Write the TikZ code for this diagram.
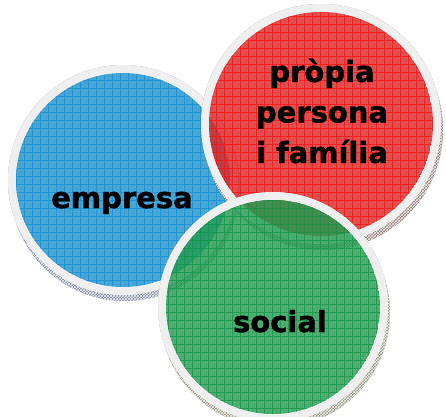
\documentclass[tikz,border=0pt]{standalone}
\usepackage{fontspec}
\setmainfont{DejaVu Sans}
\newfontfamily\heavyfont{DejaVu Sans Bold}[FakeBold=1.2]
\usetikzlibrary{patterns}
\definecolor{ringc}{HTML}{EFEFEF}
\definecolor{bluef}{RGB}{30,144,200}
\definecolor{blueg}{HTML}{1090D8}
\definecolor{blues}{HTML}{8890A8}
\definecolor{redf}{RGB}{212,40,40}
\definecolor{redg}{HTML}{FF1010}
\definecolor{reds}{HTML}{9A8080}
\definecolor{greenf}{RGB}{36,154,80}
\definecolor{greeng}{HTML}{109848}
\definecolor{greens}{HTML}{9A9C88}
\newcommand\drawdisc[6]{%
  % #1,#2 centre, #3 radius, #4 fill, #5 grid, #6 edge colour
  \begin{scope}[even odd rule]
    \fill[#6] (#1+2,#2-6) circle (#3) (#1,#2) circle (#3);
    \clip (#1+2,#2-6) circle (#3) (#1,#2) circle (#3);
    \fill[pattern=crosshatch, pattern color=white!85!#6] (#1-130,#2-130) rectangle (#1+130,#2+130);
  \end{scope}
  \fill[ringc, even odd rule] (#1,#2) circle (#3) (#1,#2) circle (#3-8);
  \begin{scope}
    \clip (#1,#2) circle (#3-8);
    \fill[#4, fill opacity=0.8] (#1,#2) circle (#3-8);
    \draw[#5, opacity=0.15, line width=0.3pt, step=4] (#1-130,#2-130) grid (#1+130,#2+130);
    \draw[#5, opacity=0.7, line width=0.8pt, step=8] (#1-130,#2-130) grid (#1+130,#2+130);
  \end{scope}
}
\tikzset{lbl/.style={font=\heavyfont\fontsize{29}{40.5}\selectfont, text=black, align=center, inner sep=0pt}}
\begin{document}
\begin{tikzpicture}[x=1pt,y=1pt]
\useasboundingbox (0,0) rectangle (446,416);
\drawdisc{123}{236}{115}{bluef}{blueg}{blues}
\drawdisc{321}{292}{120}{redf}{redg}{reds}
\drawdisc{273}{109}{115}{greenf}{greeng}{greens}
\node[lbl, anchor=base] (empresa) at (122,208) {empresa};
\node[lbl, anchor=center] (propia) at (322,305) {pròpia\\persona\\i família};
\node[lbl, anchor=base] (social) at (280,84) {social};
\end{tikzpicture}
\end{document}
